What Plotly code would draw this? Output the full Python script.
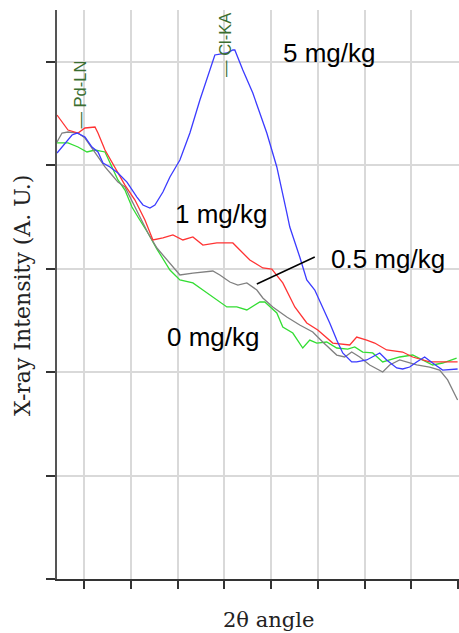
import plotly.graph_objects as go

# ---- data (2θ in arbitrary grid units, intensity in arbitrary units) ----
x_5 = [0.423, 0.744, 0.850, 1.021, 1.171, 1.299, 1.406, 1.556, 1.726, 1.919, 2.132, 2.261, 2.410, 2.517,
       2.688, 2.838, 3.051, 3.265, 3.479, 3.692, 3.799, 3.906, 4.056, 4.184, 4.226, 4.397, 4.611, 4.910,
       5.124, 5.338, 5.402, 5.615, 5.765, 5.936, 6.107, 6.256, 6.406, 6.534, 6.726, 6.833, 7.047, 7.175,
       7.325, 7.474, 7.688, 7.816, 7.966, 8.115, 8.286, 8.457, 8.671, 8.991]
y_5 = [4.120, 4.294, 4.313, 4.275, 4.178, 4.130, 4.023, 3.985, 3.926, 3.839, 3.694, 3.617, 3.588, 3.617,
       3.743, 3.888, 4.052, 4.313, 4.632, 4.923, 5.068, 5.077, 5.087, 5.116, 5.116, 4.923, 4.700, 4.313,
       3.985, 3.540, 3.404, 3.114, 2.892, 2.795, 2.631, 2.476, 2.311, 2.186, 2.099, 2.099, 2.118, 2.147,
       2.186, 2.118, 2.041, 2.031, 2.050, 2.099, 2.147, 2.089, 2.021, 2.031]

x_1 = [0.423, 0.658, 0.872, 1.021, 1.235, 1.299, 1.449, 1.662, 1.876, 2.090, 2.303, 2.474, 2.688, 2.902,
       3.115, 3.329, 3.543, 3.842, 4.184, 4.547, 4.825, 5.017, 5.252, 5.509, 5.765, 6.000, 6.321, 6.684,
       6.833, 7.047, 7.218, 7.474, 7.816, 8.030, 8.393, 8.991]
y_1 = [4.487, 4.342, 4.313, 4.362, 4.371, 4.313, 4.149, 3.975, 3.810, 3.665, 3.472, 3.279, 3.298, 3.327,
       3.279, 3.308, 3.230, 3.250, 3.250, 3.085, 3.008, 2.998, 2.863, 2.631, 2.476, 2.408, 2.282, 2.263,
       2.340, 2.311, 2.282, 2.215, 2.195, 2.147, 2.099, 2.099]

x_05 = [0.423, 0.530, 0.658, 0.872, 1.021, 1.171, 1.299, 1.449, 1.598, 1.726, 1.876, 1.983, 2.154, 2.368,
        2.560, 2.688, 2.838, 3.051, 3.329, 3.756, 3.906, 4.120, 4.291, 4.483, 4.697, 4.825, 5.038, 5.338,
        5.615, 5.893, 6.107, 6.406, 6.577, 6.726, 6.897, 7.111, 7.389, 7.538, 7.752, 8.115, 8.393, 8.607,
        8.778, 8.991]
y_05 = [4.226, 4.313, 4.323, 4.313, 4.265, 4.168, 4.081, 3.985, 3.907, 3.839, 3.791, 3.694, 3.540, 3.346,
        3.201, 3.133, 3.056, 2.940, 2.959, 2.979, 2.940, 2.872, 2.843, 2.863, 2.795, 2.718, 2.631, 2.534,
        2.456, 2.389, 2.292, 2.166, 2.147, 2.195, 2.147, 2.070, 2.002, 2.070, 2.118, 2.070, 2.050, 2.021,
        1.925, 1.731]

x_0 = [0.423, 0.658, 0.872, 1.064, 1.235, 1.449, 1.598, 1.726, 1.876, 2.026, 2.154, 2.368, 2.560, 2.838,
       3.051, 3.329, 3.543, 3.842, 4.056, 4.269, 4.483, 4.761, 4.868, 5.124, 5.252, 5.466, 5.679, 5.829,
       5.979, 6.192, 6.406, 6.641, 6.791, 6.962, 7.175, 7.389, 7.538, 7.752, 8.030, 8.244, 8.457, 8.671,
       8.970]
y_0 = [4.217, 4.217, 4.178, 4.130, 4.149, 4.130, 3.985, 3.859, 3.762, 3.598, 3.501, 3.346, 3.191, 2.988,
       2.892, 2.863, 2.795, 2.698, 2.631, 2.631, 2.602, 2.679, 2.679, 2.573, 2.437, 2.379, 2.234, 2.311,
       2.282, 2.292, 2.234, 2.224, 2.244, 2.195, 2.186, 2.099, 2.118, 2.147, 2.166, 2.118, 2.070, 2.089,
       2.137]

series_names = ["0 mg/kg", "0.5 mg/kg", "1 mg/kg", "5 mg/kg"]
series_colors = ["#33dd33", "#808080", "#ff3333", "#3b3bff"]

# label positions (data units)
label_texts = ["5 mg/kg", "1 mg/kg", "0.5 mg/kg", "0 mg/kg"]
label_x = [6.256, 3.949, 7.496, 3.778]
label_y = [5.087, 3.530, 3.095, 2.340]

peak_texts = ["— Pd-LN", "— Cl-KA"]
peak_x = [0.905, 4.013]
peak_y = [4.681, 5.164]

pointer_x = [4.697, 5.936]
pointer_y = [2.853, 3.114]

x_ticks = [1, 2, 3, 4, 5, 6, 7, 8, 9]
y_ticks = [0, 1, 2, 3, 4, 5]

fig = go.Figure()
for xs, ys, name, col in zip([x_0, x_05, x_1, x_5], [y_0, y_05, y_1, y_5], series_names, series_colors):
    fig.add_trace(go.Scatter(x=xs, y=ys, mode="lines", name=name,
                             line=dict(color=col, width=1.3), showlegend=False))

for t, lx, ly in zip(label_texts, label_x, label_y):
    fig.add_annotation(x=lx, y=ly, text=t, showarrow=False, xanchor="center", yanchor="middle",
                       font=dict(family="Liberation Sans, Arial", size=26, color="black"))

for t, px, py in zip(peak_texts, peak_x, peak_y):
    fig.add_annotation(x=px, y=py, text=t, showarrow=False, textangle=-90,
                       xanchor="center", yanchor="middle",
                       font=dict(family="Liberation Sans, Arial", size=16.5, color="#3b6e30"))

fig.add_shape(type="line", x0=pointer_x[0], y0=pointer_y[0], x1=pointer_x[1], y1=pointer_y[1],
              xref="x", yref="y", line=dict(color="black", width=1.5))

# axis titles
fig.add_annotation(x=4.936, y=0, xref="x", yref="paper", yanchor="top", yshift=-27,
                   text="2θ angle", showarrow=False,
                   font=dict(family="DejaVu Serif", size=21, color="#222"))
fig.add_annotation(x=0, y=2.737, xref="paper", yref="y", xanchor="center", xshift=-35,
                   text="X-ray Intensity (A. U.)", showarrow=False, textangle=-90,
                   font=dict(family="DejaVu Serif", size=22, color="#222"))

fig.update_layout(
    width=459, height=633,
    margin=dict(l=57, r=0, t=10, b=54),
    paper_bgcolor="white", plot_bgcolor="white",
    xaxis=dict(range=[0.4225, 9.021], tickvals=x_ticks, showticklabels=False,
               ticks="outside", ticklen=8, tickcolor="#333", tickwidth=1.5,
               showgrid=True, gridcolor="#d9d9d9", gridwidth=1.5, zeroline=False,
               showline=True, linecolor="#333", linewidth=1.5),
    yaxis=dict(range=[0, 5.503], tickvals=y_ticks, showticklabels=False,
               ticks="outside", ticklen=9, tickcolor="#333", tickwidth=1.5,
               showgrid=True, gridcolor="#d9d9d9", gridwidth=1.5, zeroline=False,
               showline=True, linecolor="#555", linewidth=2),
)

fig.write_html("out.html")
